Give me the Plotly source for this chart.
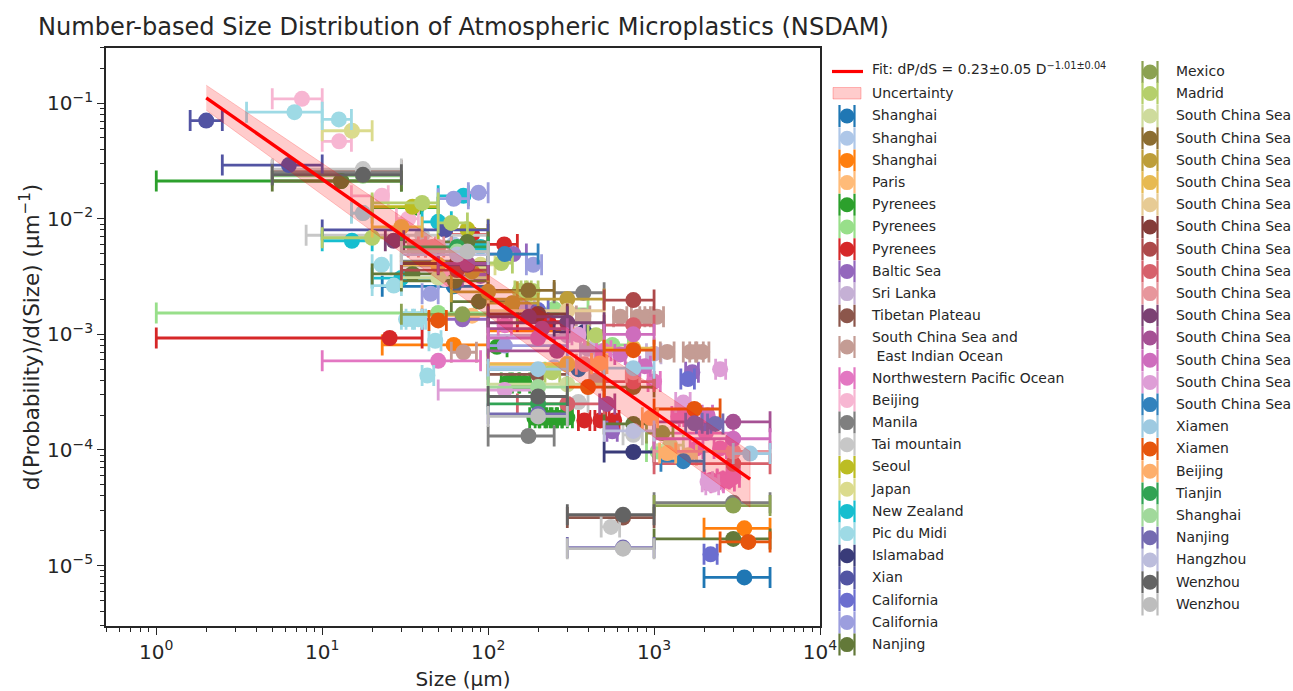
import plotly.graph_objects as go

TITLE = "Number-based Size Distribution of Atmospheric Microplastics (NSDAM)"
FIT_LABEL = "Fit: dP/dS = 0.23±0.05 D<sup>−1.01±0.04</sup>"
X_TICKS = [1,10,100,1000,10000]
X_TICK_TEXT = ["10<sup>0</sup>","10<sup>1</sup>","10<sup>2</sup>","10<sup>3</sup>","10<sup>4</sup>"]
Y_TICKS = [1e-1,1e-2,1e-3,1e-4,1e-5]
Y_TICK_TEXT = ["10<sup>−1</sup>","10<sup>−2</sup>","10<sup>−3</sup>","10<sup>−4</sup>","10<sup>−5</sup>"]
NAMES = ["Shanghai","Shanghai","Shanghai","Paris","Pyrenees","Pyrenees","Pyrenees","Baltic Sea","Sri Lanka",
 "Tibetan Plateau","South China Sea and<br> East Indian Ocean","Northwestern Pacific Ocean","Beijing","Manila",
 "Tai mountain","Seoul","Japan","New Zealand","Pic du Midi","Islamabad","Xian","California","California","Nanjing",
 "Mexico","Madrid"] + ["South China Sea"]*14 + ["Xiamen","Xiamen","Beijing","Tianjin","Shanghai","Nanjing","Hangzhou","Wenzhou","Wenzhou"]
COLORS = ["#1f77b4","#aec7e8","#ff7f0e","#ffbb78","#2ca02c","#98df8a","#d62728","#9467bd","#c5b0d5","#8c564b",
 "#c49c94","#e377c2","#f7b6d2","#7f7f7f","#c7c7c7","#bcbd22","#dbdb8d","#17becf","#9edae5",
 "#393b79","#5254a3","#6b6ecf","#9c9ede","#637939","#8ca252","#b5cf6b","#cedb9c","#8c6d31","#bd9e39","#e7ba52",
 "#e7cb94","#843c39","#ad494a","#d6616b","#e7969c","#7b4173","#a55194","#ce6dbd","#de9ed6",
 "#3182bd","#9ecae1","#e6550d","#fdae6b","#31a354","#a1d99b","#756bb1","#bcbddc","#636363","#bdbdbd"]

x01=[3500,62,350]; y01=[7.9e-6,.0026,.0005]; l01=[2000,23,100]; h01=[5000,100,500]
x02=[62,250,1200]; y02=[.0060,.00052,.00009]; l02=[50,100,1000]; h02=[75,500,1500]
x03=[3500,62,300]; y03=[2.1e-5,.00081,.00107]; l03=[2000,23,100]; h03=[5000,100,500]
x04=[300,80,1300]; y04=[.00056,.00145,.000094]; l04=[100,40,1000]; h04=[500,150,1800]
x05=[13,37,113,130,145,165,190,205,220,240,260,280,300]
y05=[.0212,.0125,.00078,.00038,.00038,.00038,.00019,.00019,.00019,.00019,.00019,.00019,.00019]
l05=[1,20,100,120,135,153,178,192,205,225,243,262,280]
h05=[30,50,130,140,155,178,203,220,236,257,278,300,322]
x06=[17.6,50,250,560,1050]; y06=[.0235,.00153,.00166,.00081,.000097]; l06=[5,1,150,450,900]; h06=[30,100,400,700,1250]
x07=[25.5,125,80,380,474,575,230]; y07=[.00093,.0060,.0073,.00018,.00018,.00018,.00129]
l07=[1,100,60,350,440,535,150]; h07=[40,150,100,410,510,615,300]
x08=[142,70,560,1700,90]; y08=[.00495,.00135,.000145,.00047,.0032]; l08=[100,40,520,1550,70]; h08=[170,100,600,1850,100]
x09=[164,1000,400,300]; y09=[.00176,.00068,.00075,.00098]; l09=[140,900,360,100]; h09=[190,1100,440,500]
x10=[17.6,65,200,650]; y10=[.0262,.0041,.00045,.000026]; l10=[5,30,100,300]; h10=[30,100,300,1000]
x11=[65,71,375,625,800,900,1040,1200,1650,1800,1950,450]
y11=[.0039,.0007,.00144,.00142,.00142,.00142,.00142,.000705,.000705,.000705,.000705,.0004]
l11=[30,60,340,570,730,820,950,1090,1500,1640,1780,410]
h11=[100,85,410,685,880,990,1140,1320,1810,1980,2140,490]
x12=[50,126,500,1000,1800,2050,2500,2200,2400,2600,2800,3000,1400,1550,1650]
y12=[.00059,.0012,.00072,.00039,.000103,.00014,.000103,.000055,.000052,.000056,.000054,.000058,.000195,.000195,.000195]
l12=[10,115,450,920,1650,1000,2300,2020,2200,2400,2600,2750,1280,1420,1510]
h12=[90,138,550,1090,1970,3000,2730,2400,2620,2840,3050,3270,1530,1690,1800]
x13=[7.55,12.65,22.9,33,55]; y13=[.109,.0467,.0158,.01,.003]; l13=[5,10,15,28,50]; h13=[10,15,25,38,60]
x14=[17.6,375,175,3000,70]; y14=[.025,.00229,.000132,.000035,.0043]; l14=[5,250,100,1000,30]; h14=[30,500,250,5000,100]
x15=[17.6,17.6,40,350,750,550]; y15=[.0269,.0112,.0072,.00026,.000135,2.16e-5]; l15=[5,15,8,300,650,480]; h15=[30,20,100,400,850,620]
x16=[35,75]; y16=[.0127,.0081]; l16=[20,50]; h16=[50,100]
x17=[15.1,90]; y17=[.0577,.004]; l17=[10,70]; h17=[20,110]
x18=[71,50,15.1,90,30]; y18=[.0158,.0094,.00645,.0057,.00307]; l18=[50,40,10,60,20]; h18=[76,60,20,100,50]
x19=[6.8,12.6,22.8,27,32,35,38,48,43,17.6]; y19=[.0835,.0723,.004,.00264,.00135,.00135,.00135,.00088,.00044,.0112]
l19=[3.5,10,20,20,30,32,35,44,40,15]; h19=[10,15,26,30,36,40,42,52,47,20]
x20=[750,380]; y20=[9.6e-5,.00105]; l20=[500,250]; h20=[1000,500]
x21=[2,6.3,55]; y21=[.0706,.0291,.008]; l21=[1.6,2.5,10]; h21=[2.5,10,100]
x22=[200,2190,1600,2000]; y22=[.00162,1.25e-5,.00041,.00017]; l22=[170,2000,1450,1800]; h22=[230,2400,1750,2200]
x23=[62,87.5,187,45,126]; y23=[.0149,.0168,.004,.00224,.0008]; l23=[50,76,170,40,100]; h23=[76,100,210,50,300]
x24=[13,3000,35,63,88,750,75]; y24=[.0212,1.7e-5,.00333,.0029,.00192,.000168,.0063]; l24=[5,1000,20,30,60,500,30]; h24=[30,5000,50,100,150,1000,100]
x25=[3000,70,1120]; y25=[3.3e-5,.00149,.00014]; l25=[1000,30,900]; h25=[5000,150,1300]
x26=[40,20,60,120,155,170,185,447,243]; y26=[.0137,.00685,.0092,.00414,.00237,.00237,.00237,.00098,.00047]
l26=[20,10,50,100,145,158,172,400,220]; h26=[50,30,75,140,168,182,200,500,270]
x27=[300,50,1250]; y27=[.00037,.0031,.00011]; l27=[100,30,1000]; h27=[500,100,1500]
x28=[65,750,175]; y28=[.0042,.00035,.0024]; l28=[30,500,100]; h28=[100,1000,250]
x29=[80,100,140,300]; y29=[.0035,.00233,.00186,.00202]; l29=[60,60,100,100]; h29=[100,150,200,500]
x30=[30,50,300,750]; y30=[.0085,.004,.00055,.00076]; l30=[20,30,100,500]; h30=[40,100,500,1000]
x31=[300,1600]; y31=[.0016,.00009]; l31=[100,1400]; h31=[500,1800]
x32=[65,200]; y32=[.0041,.0015]; l32=[30,100]; h32=[100,300]
x33=[750,65]; y33=[.00198,.0036]; l33=[500,30]; h33=[1000,100]
x34=[750,300,3000,750]; y34=[.0012,.00025,7.6e-5,.00039]; l34=[500,150,1000,500]; h34=[1000,500,5000,1000]
x35=[36,41,46,50,3000,380,750]; y35=[.0057,.0057,.0057,.0057,9.7e-5,.00055,.00047]; l35=[30,33,38,42,1000,340,680]; h35=[42,48,54,60,5000,420,820]
x36=[27,75,176,300]; y36=[.00645,.004,.00142,.00126]; l36=[24,50,100,100]; h36=[31,100,300,500]
x37=[75,211,260,3000,520]; y37=[.0041,.00112,.00072,.000175,.00025]; l37=[50,100,100,1000,470]; h37=[100,300,500,5000,580]
x38=[750,625,880,2100,3000,200]; y38=[.001,.00067,.00053,.0002,.000125,.00093]; l38=[500,580,820,1950,1000,100]; h38=[1000,670,950,2250,5000,300]
x39=[126,350,1500,2100,2250,2500]; y39=[.00033,.00099,.000257,.000053,.00005,.0005]; l39=[50,320,1350,1950,2050,2350]; h39=[200,380,1650,2250,2450,2700]
x40=[1500,126]; y40=[8e-5,.00495]; l40=[1100,100]; h40=[2000,200]
x41=[3790,200,750]; y41=[9.3e-5,.0005,.00051]; l41=[3000,100,500]; h41=[5000,300,1000]
x42=[3700,50,750,400,1750]; y42=[1.6e-5,.00132,.00073,.00035,.000226]; l42=[2500,44,500,300,1000]; h42=[5000,56,1000,500,2500]
x43=[950,1200,470]; y43=[.00019,.000094,.00056]; l43=[850,1080,420]; h43=[1050,1350,520]
x44=[65,200]; y44=[.0057,.00025]; l44=[30,100]; h44=[100,300]
x45=[65,200]; y45=[.0052,.00035]; l45=[30,100]; h45=[100,300]
x46=[650,200,1750,2340]; y46=[1.43e-5,.000205,.00017,.000168]; l46=[300,100,1550,2100]; h46=[1000,300,1950,2600]
x47=[750,65]; y47=[.000146,.0049]; l47=[500,30]; h47=[1000,100]
x48=[650,200,17.6]; y48=[2.75e-5,.00029,.024]; l48=[300,100,5]; h48=[1000,300,30]
x49=[650,200,75]; y49=[1.4e-5,.000195,.0052]; l49=[300,100,30]; h49=[1000,300,100]

SX=[x01,x02,x03,x04,x05,x06,x07,x08,x09,x10,x11,x12,x13,x14,x15,x16,x17,x18,x19,x20,x21,x22,x23,x24,x25,x26,x27,x28,x29,x30,x31,x32,x33,x34,x35,x36,x37,x38,x39,x40,x41,x42,x43,x44,x45,x46,x47,x48,x49]
SY=[y01,y02,y03,y04,y05,y06,y07,y08,y09,y10,y11,y12,y13,y14,y15,y16,y17,y18,y19,y20,y21,y22,y23,y24,y25,y26,y27,y28,y29,y30,y31,y32,y33,y34,y35,y36,y37,y38,y39,y40,y41,y42,y43,y44,y45,y46,y47,y48,y49]
SL=[l01,l02,l03,l04,l05,l06,l07,l08,l09,l10,l11,l12,l13,l14,l15,l16,l17,l18,l19,l20,l21,l22,l23,l24,l25,l26,l27,l28,l29,l30,l31,l32,l33,l34,l35,l36,l37,l38,l39,l40,l41,l42,l43,l44,l45,l46,l47,l48,l49]
SH=[h01,h02,h03,h04,h05,h06,h07,h08,h09,h10,h11,h12,h13,h14,h15,h16,h17,h18,h19,h20,h21,h22,h23,h24,h25,h26,h27,h28,h29,h30,h31,h32,h33,h34,h35,h36,h37,h38,h39,h40,h41,h42,h43,h44,h45,h46,h47,h48,h49]

FIT_X=[2,3790]; FIT_Y=[0.111,5.58e-5]
BAND_X=[2,3790,3790,2]; BAND_Y=[0.143,9.7e-5,3.2e-5,0.087]

FONT="DejaVu Sans"
INK="#262626"
fig=go.Figure()
for x,y,l,h,c,n in zip(SX,SY,SL,SH,COLORS,NAMES):
    assert len(x)==len(y)==len(l)==len(h)
    fig.add_trace(go.Scatter(x=x,y=y,mode="markers",name=n.replace("<br>"," "),
        marker=dict(color=c,size=16,line=dict(width=0)),
        error_x=dict(type="data",symmetric=False,array=[b-a for a,b in zip(x,h)],arrayminus=[a-b for a,b in zip(x,l)],
                     color=c,thickness=2.8,width=10.5),
        showlegend=False,hoverinfo="skip"))
fig.add_trace(go.Scatter(x=BAND_X,y=BAND_Y,mode="lines",fill="toself",fillcolor="rgba(255,0,0,0.2)",
    line=dict(color="rgba(255,0,0,0.2)",width=1),showlegend=False,hoverinfo="skip"))
fig.add_trace(go.Scatter(x=FIT_X,y=FIT_Y,mode="lines",line=dict(color="#ff0000",width=3.4),showlegend=False,hoverinfo="skip"))

STEP=22.2
def rows():
    ys=[];cols=[];y=116.0;col=0
    for n in NAMES:
        if n=="Mexico":
            col=1;y=72.0
        if "<br>" in n:
            y+=9
            ys.append(y);y+=9+STEP
        else:
            ys.append(y);y+=STEP
        if n=="Mexico":
            y=93.5
        if n=="Madrid":
            y=116.0
        cols.append(col)
    return ys,cols
LY,LC=rows()
KEYX=[847,1150]; TXTX=[872,1176]
TEXT_NUDGE=1.0
for n,c,y,col in zip(NAMES,COLORS,LY,LC):
    fig.add_trace(go.Scatter(x=[KEYX[col]],y=[y],xaxis="x2",yaxis="y2",mode="markers",
        marker=dict(color=c,size=15,line=dict(width=0)),
        error_x=dict(type="data",array=[7.5],color=c,thickness=2.2,width=11),
        cliponaxis=False,showlegend=False,hoverinfo="skip"))
fig.add_trace(go.Scatter(x=[TXTX[c] for c in LC],y=[v+TEXT_NUDGE for v in LY],xaxis="x2",yaxis="y2",mode="text",text=NAMES,
    textposition="middle right",textfont=dict(family=FONT,size=13.95,color=INK),cliponaxis=False,showlegend=False,hoverinfo="skip"))
fig.add_trace(go.Scatter(x=[832,863],y=[71.5,71.5],xaxis="x2",yaxis="y2",mode="lines",line=dict(color="#ff0000",width=3.2),showlegend=False,hoverinfo="skip"))
fig.add_trace(go.Scatter(x=[833,861,861,833,833],y=[87.5,87.5,99,99,87.5],xaxis="x2",yaxis="y2",mode="lines",fill="toself",
    fillcolor="rgba(255,0,0,0.2)",line=dict(color="rgba(255,0,0,0.25)",width=1),showlegend=False,hoverinfo="skip"))
fig.add_trace(go.Scatter(x=[872,872],y=[70+TEXT_NUDGE,93.5+TEXT_NUDGE],xaxis="x2",yaxis="y2",mode="text",text=[FIT_LABEL,"Uncertainty"],
    textposition="middle right",textfont=dict(family=FONT,size=13.95,color=INK),cliponaxis=False,showlegend=False,hoverinfo="skip"))

W,H=1293,691
L,R,T,B=106,820,48,626
axis=dict(type="log",showgrid=False,zeroline=False,showline=True,mirror=True,linecolor=INK,linewidth=1.6,
    ticks="outside",ticklen=7,tickwidth=1.4,tickcolor=INK,tickmode="array",automargin=False,
    tickfont=dict(family=FONT,size=20,color=INK),
    minor=dict(ticks="outside",ticklen=4,tickwidth=1,tickcolor=INK,dtick="D1",showgrid=False))
fig.update_layout(width=W,height=H,margin=dict(l=0,r=0,t=0,b=0,autoexpand=False),paper_bgcolor="white",plot_bgcolor="rgba(0,0,0,0)",
    showlegend=False,hovermode=False,font=dict(family=FONT,color=INK),
    title=dict(text=TITLE,x=38/W,xanchor="left",y=1-27/H,yanchor="middle",font=dict(family=FONT,size=24.1,color=INK)),
    xaxis=dict(axis,range=[-0.303,4],domain=[L/W,R/W],anchor="y",tickvals=X_TICKS,ticktext=X_TICK_TEXT,
               title=dict(text="Size (µm)",standoff=11,font=dict(family=FONT,size=20,color=INK))),
    yaxis=dict(axis,range=[-5.523,-0.523],domain=[1-B/H,1-T/H],anchor="x",tickvals=Y_TICKS,ticktext=Y_TICK_TEXT,
               title=dict(text="d(Probability)/d(Size) (µm<sup>−1</sup>)",standoff=2,font=dict(family=FONT,size=21.5,color=INK))),
    xaxis2=dict(anchor="y2",domain=[0,1],range=[0,W],visible=False,fixedrange=True),
    yaxis2=dict(anchor="x2",domain=[0,1],range=[H,0],visible=False,fixedrange=True))
fig.write_html("out.html",config={"displayModeBar":False},post_script="document.body.style.margin='0';")
